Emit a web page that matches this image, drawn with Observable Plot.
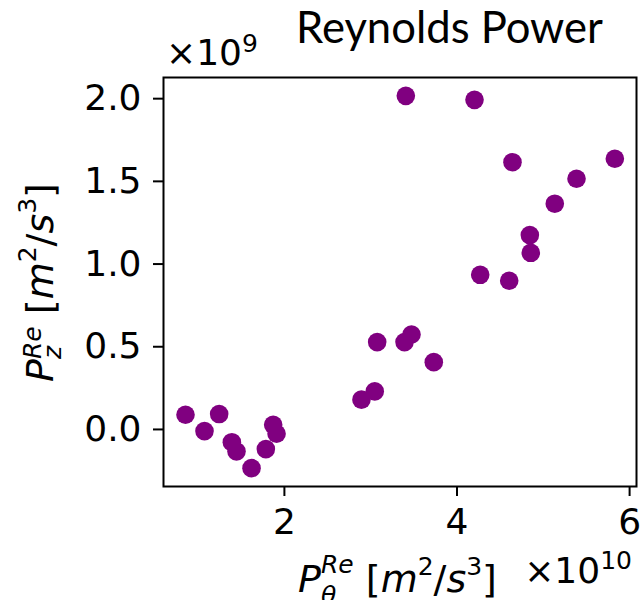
<!DOCTYPE html>
<html><head><meta charset="utf-8">
<script src="https://cdn.jsdelivr.net/npm/d3@7"></script>
<script src="https://cdn.jsdelivr.net/npm/@observablehq/plot@0.6"></script>
<style>
body{margin:0;background:#fff}
#chart svg [aria-label$="tick"], #chart svg .tick line{stroke-width:2}
</style>
</head><body><div id="chart"></div>
<script>
// P_theta^Re in units of 1e10 m^2/s^3
const xValues = [0.854,1.074,1.244,1.391,1.445,1.619,1.785,1.870,1.909,2.893,3.047,3.075,3.392,3.473,3.731,3.407,4.203,4.269,4.605,4.643,4.844,4.855,5.133,5.385,5.829];
// P_z^Re in units of 1e9 m^2/s^3
const yValues = [0.089,-0.010,0.093,-0.077,-0.133,-0.234,-0.119,0.028,-0.026,0.180,0.230,0.528,0.528,0.574,0.407,2.017,1.993,0.935,0.899,1.616,1.175,1.068,1.365,1.516,1.637];
const xTicks = [2,4,6];
const yTicks = [0,0.5,1.0,1.5,2.0];
const xTickLabels = ["2","4","6"];
const yTickLabels = ["0.0","0.5","1.0","1.5","2.0"];
const titleText = "Reynolds Power";
const xOffsetExp = "10";
const yOffsetExp = "9";

const data = xValues.map((x,i)=>({x, y:yValues[i]}));

const W = 643, H = 600;
const mL = 163, mR = 7, mT = 77, mB = 114;

const plot = Plot.plot({
  width: W, height: H,
  marginLeft: mL, marginRight: mR, marginTop: mT, marginBottom: mB,
  style: {fontFamily: "DejaVu Sans", fontSize: "36px", color: "#000", background: "#fff", overflow: "visible"},
  x: {domain: [0.599, 6.08], ticks: xTicks, tickFormat: d => xTickLabels[xTicks.indexOf(d)], tickSize: 10, tickPadding: 12, label: null},
  y: {domain: [-0.345, 2.128], ticks: yTicks, tickFormat: d => yTickLabels[yTicks.indexOf(d)], tickSize: 10, tickPadding: 12, label: null},
  marks: [
    Plot.frame({stroke: "#000", strokeWidth: 2}),
    Plot.dot(data, {x: "x", y: "y", r: 9.3, fill: "#800080", stroke: null})
  ]
});
document.getElementById("chart").appendChild(plot);

const svg = d3.select(plot);
const FS = 36, LS = 38;

// lay out runs of text; returns group and width
function runs(parent, items, fontSize) {
  const g = parent.append("g").attr("text-anchor", "start");
  let x = 0;
  for (const it of items) {
    const size = it.size || fontSize;
    if (it.stack) {
      let w = 0;
      for (const s of it.stack) {
        const t = g.append("text").attr("x", x).attr("y", s.dy || 0).attr("text-anchor", "start")
          .attr("font-family", "DejaVu Sans").attr("font-size", s.size)
          .attr("font-style", s.italic ? "italic" : "normal").attr("fill", "#000").text(s.t);
        w = Math.max(w, t.node().getComputedTextLength());
      }
      x += w;
    } else {
      const t = g.append("text").attr("x", x).attr("y", it.dy || 0).attr("text-anchor", "start")
        .attr("font-family", "DejaVu Sans").attr("font-size", size)
        .attr("font-style", it.italic ? "italic" : "normal").attr("fill", "#000").text(it.t);
      x += t.node().getComputedTextLength() + (it.gap || 0);
    }
  }
  return {g, w: x};
}

// Title
const title = svg.append("text").attr("x", 449.5).attr("y", 43).attr("text-anchor", "middle")
  .attr("font-family", "Lato").attr("font-size", 40).attr("fill", "#000").text(titleText);
const tw = title.node().getComputedTextLength();
title.attr("font-size", 40 * 307 / tw);

const SS = 25;
// y offset text ×10^9
{
  const r = runs(svg, [{t: "×10"}, {t: yOffsetExp, size: SS, dy: -13}], FS);
  r.g.attr("transform", `translate(166,65)`);
}
// x offset text ×10^10
{
  const r = runs(svg, [{t: "×10"}, {t: xOffsetExp, size: SS, dy: -14}], FS);
  r.g.attr("transform", `translate(${632 - r.w},583)`);
}
// x label
{
  const r = runs(svg, [
    {t: "P", italic: true},
    {stack: [{t: "Re", italic: true, size: SS, dy: -19}, {t: "θ", italic: true, size: SS, dy: 12}]},
    {t: "\u00a0["},
    {t: "m", italic: true},
    {t: "2", size: SS, dy: -17},
    {t: "/"},
    {t: "s", italic: true},
    {t: "3", size: SS, dy: -17},
    {t: "]"}
  ], LS);
  r.g.attr("transform", `translate(${397.5 - r.w / 2},592)`);
}
// y label
{
  const r = runs(svg, [
    {t: "P", italic: true},
    {stack: [{t: "Re", italic: true, size: SS, dy: -12}, {t: "z", italic: true, size: SS, dy: 8}]},
    {t: "\u00a0["},
    {t: "m", italic: true},
    {t: "2", size: SS, dy: -17},
    {t: "/"},
    {t: "s", italic: true},
    {t: "3", size: SS, dy: -17},
    {t: "]"}
  ], LS);
  r.g.attr("transform", `translate(53,${282.5 + r.w / 2}) rotate(-90)`);
}
</script>
</body></html>
